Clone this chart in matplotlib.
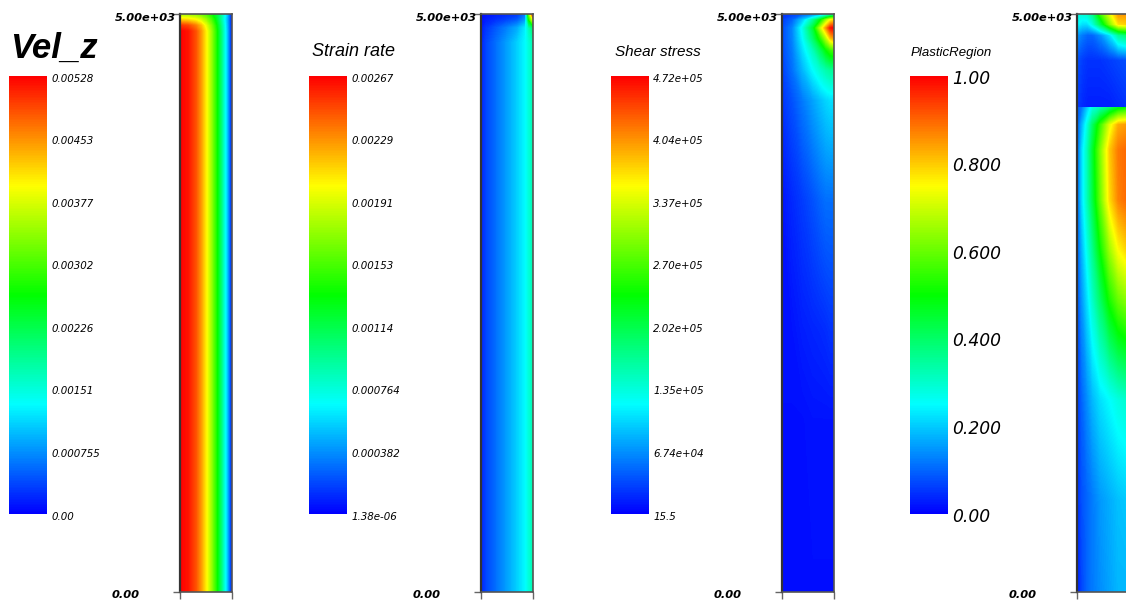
import numpy as np
import matplotlib
matplotlib.use("Agg")
import matplotlib.pyplot as plt
from matplotlib.colors import LinearSegmentedColormap, Normalize
from matplotlib.cm import ScalarMappable
from matplotlib.transforms import offset_copy

# ---------------- data ----------------
# Vel_z (units 1e-3)
vz_range = (0.0, 5.28)
vz_r = [0, 0.15, 0.3, 0.4, 0.5, 0.6, 0.7, 0.8, 0.9, 0.96, 1.0]
vz_depth = [0, 4850, 4900, 4955, 5000]
vz_vals = [
    [5.28, 5.17, 4.86, 4.49, 4.01, 3.43, 2.75, 1.95, 1.06, 0.42, 0.0],
    [5.28, 5.17, 4.86, 4.49, 4.01, 3.43, 2.75, 1.95, 1.06, 0.42, 0.0],
    [5.00, 4.90, 4.62, 4.30, 3.84, 3.30, 2.65, 1.89, 1.03, 0.41, 0.0],
    [4.10, 4.05, 3.90, 3.70, 3.40, 3.00, 2.45, 1.76, 0.98, 0.40, 0.0],
    [3.38, 3.36, 3.27, 3.15, 2.96, 2.70, 2.35, 1.80, 1.05, 0.42, 0.0],
]
vz_ticks = ["0.00", "0.000755", "0.00151", "0.00226", "0.00302", "0.00377", "0.00453", "0.00528"]

# Strain rate (units 1e-3)
sr_range = (0.00138, 2.67)
sr_r = [0, 0.1, 0.3, 0.5, 0.7, 0.85, 0.92, 1.0]
sr_depth = [0, 4750, 4880, 4950, 5000]
sr_vals = [
    [0.08, 0.18, 0.30, 0.42, 0.55, 0.66, 0.76, 0.88],
    [0.08, 0.18, 0.30, 0.42, 0.55, 0.66, 0.76, 0.88],
    [0.06, 0.14, 0.24, 0.34, 0.45, 0.62, 0.85, 1.07],
    [0.04, 0.08, 0.13, 0.18, 0.24, 0.40, 1.30, 1.95],
    [0.03, 0.05, 0.08, 0.11, 0.14, 0.30, 1.60, 2.67],
]
sr_ticks = ["1.38e-06", "0.000382", "0.000764", "0.00114", "0.00153", "0.00191", "0.00229", "0.00267"]

# Shear stress (units 1e5)
ss_range = (0.000155, 4.72)
ss_r = [0, 0.2, 0.4, 0.6, 0.75, 0.85, 0.93, 1.0]
ss_depth = [0, 1488, 2266, 3391, 4256, 4516, 4689, 4792, 4879, 4948, 5000]
ss_vals = [
    [0.07, 0.07, 0.07, 0.07, 0.07, 0.07, 0.07, 0.07],
    [0.07, 0.07, 0.07, 0.09, 0.09, 0.09, 0.09, 0.09],
    [0.09, 0.09, 0.14, 0.17, 0.19, 0.21, 0.24, 0.24],
    [0.09, 0.19, 0.28, 0.38, 0.47, 0.52, 0.52, 0.52],
    [0.24, 0.38, 0.57, 0.76, 0.90, 0.99, 1.04, 1.04],
    [0.28, 0.52, 0.85, 1.18, 1.42, 1.56, 1.65, 1.65],
    [0.33, 0.57, 1.04, 1.51, 1.98, 2.36, 2.60, 2.69],
    [0.33, 0.61, 1.18, 1.89, 2.60, 3.21, 3.78, 4.01],
    [0.33, 0.61, 1.27, 2.12, 3.30, 4.01, 4.58, 4.72],
    [0.28, 0.47, 0.94, 1.65, 2.36, 3.07, 3.54, 3.68],
    [0.24, 0.28, 0.38, 0.47, 0.66, 0.94, 1.18, 1.32],
]
ss_ticks = ["15.5", "6.74e+04", "1.35e+05", "2.02e+05", "2.70e+05", "3.37e+05", "4.04e+05", "4.72e+05"]

# PlasticRegion
pr_range = (0.0, 1.0)
pr_r = [0, 0.1, 0.2, 0.3, 0.45, 0.63, 0.8, 1.0]
pr_depth = [0, 796, 1661, 2526, 2958, 3391, 3824, 4040, 4187, 4189, 4602, 4818, 4913, 5000]
pr_vals = [
    [0.02, 0.07, 0.10, 0.12, 0.14, 0.16, 0.18, 0.18],
    [0.04, 0.08, 0.10, 0.12, 0.15, 0.17, 0.19, 0.20],
    [0.05, 0.10, 0.14, 0.18, 0.22, 0.25, 0.28, 0.30],
    [0.07, 0.15, 0.22, 0.30, 0.40, 0.52, 0.60, 0.64],
    [0.08, 0.18, 0.27, 0.36, 0.50, 0.65, 0.75, 0.80],
    [0.08, 0.22, 0.32, 0.43, 0.60, 0.78, 0.87, 0.90],
    [0.08, 0.22, 0.32, 0.45, 0.62, 0.80, 0.88, 0.90],
    [0.08, 0.18, 0.28, 0.40, 0.55, 0.72, 0.83, 0.85],
    [0.08, 0.12, 0.20, 0.28, 0.33, 0.40, 0.48, 0.52],
    [0.06, 0.04, 0.03, 0.03, 0.03, 0.03, 0.04, 0.05],
    [0.08, 0.06, 0.05, 0.05, 0.05, 0.06, 0.07, 0.08],
    [0.15, 0.12, 0.10, 0.10, 0.14, 0.22, 0.35, 0.40],
    [0.25, 0.22, 0.22, 0.28, 0.42, 0.62, 0.78, 0.80],
    [0.28, 0.29, 0.30, 0.36, 0.55, 0.72, 0.85, 0.85],
]
pr_ticks = ["0.00", "0.200", "0.400", "0.600", "0.800", "1.00"]

titles = ["Vel_z", "Strain rate", "Shear stress", "PlasticRegion"]

# ---------------- layout ----------------
W, H = 1126, 603
fig = plt.figure(figsize=(W / 100, H / 100), dpi=100)
fig.patch.set_facecolor("white")

def fx(px):
    return px / W

def fy(py):
    return 1 - py / H

cmap = LinearSegmentedColormap.from_list(
    "pv_rainbow", [(0, 0, 1), (0, 1, 1), (0, 1, 0), (1, 1, 0), (1, 0, 0)], N=256)

panels = [
    dict(r=vz_r, d=vz_depth, v=vz_vals, rng=vz_range, ticks=vz_ticks, title=titles[0],
         cbx=9, fld=180, tsize=25, tweight="bold", tx=10, ty=58, lsize=7.4),
    dict(r=sr_r, d=sr_depth, v=sr_vals, rng=sr_range, ticks=sr_ticks, title=titles[1],
         cbx=309, fld=481, tsize=13, tweight="normal", tx=312, ty=56, lsize=7.4),
    dict(r=ss_r, d=ss_depth, v=ss_vals, rng=ss_range, ticks=ss_ticks, title=titles[2],
         cbx=611, fld=782, tsize=11, tweight="normal", tx=615, ty=56, lsize=7.4),
    dict(r=pr_r, d=pr_depth, v=pr_vals, rng=pr_range, ticks=pr_ticks, title=titles[3],
         cbx=910, fld=1077, tsize=9.5, tweight="normal", tx=911, ty=56, lsize=12.3),
]

CB_TOP, CB_BOT, CB_W = 76, 514, 38
F_TOP, F_BOT, F_W = 14, 592, 52

for p in panels:
    norm = Normalize(vmin=p["rng"][0], vmax=p["rng"][1])

    # field
    ax = fig.add_axes([fx(p["fld"]), fy(F_BOT), fx(F_W), (F_BOT - F_TOP) / H])
    levels = np.linspace(p["rng"][0], p["rng"][1], 257)
    R, D = np.meshgrid(np.asarray(p["r"]), np.asarray(p["d"]))
    ax.contourf(R, D, np.asarray(p["v"]), levels=levels, cmap=cmap, norm=norm,
                extend="both", antialiased=False)
    ax.set_xlim(0, 1)
    ax.set_ylim(0, 5000)
    ax.set_xticks([0, 1])
    ax.set_yticks([0, 5000])
    ax.set_xticklabels([])
    ax.set_yticklabels([])
    ax.tick_params(length=5, width=1, color="#666666", direction="out")
    for s in ax.spines.values():
        s.set_color("#555555")
        s.set_linewidth(1.2)
    ax.spines["left"].set_color("#333333")
    ax.spines["left"].set_linewidth(1.6)
    fig.text(fx(p["fld"] - 4), fy(18), "5.00e+03", ha="right", va="center",
             fontsize=8.2, style="italic", weight="bold", family="DejaVu Sans")
    fig.text(fx(p["fld"] - 40), fy(595), "0.00", ha="right", va="center",
             fontsize=8.2, style="italic", weight="bold", family="DejaVu Sans")

    # colorbar
    cax = fig.add_axes([fx(p["cbx"]), fy(CB_BOT), fx(CB_W), (CB_BOT - CB_TOP) / H])
    sm = ScalarMappable(norm=norm, cmap=cmap)
    cb = fig.colorbar(sm, cax=cax)
    cb.outline.set_visible(False)
    cb.set_ticks([])
    trans = offset_copy(cax.transAxes, fig=fig, x=4, y=-2.5, units="dots")
    n = len(p["ticks"])
    for i, lab in enumerate(p["ticks"]):
        cax.text(1.0, i / (n - 1), lab, transform=trans, ha="left", va="center",
                 fontsize=p["lsize"], style="italic", family="DejaVu Sans")

    # title
    fig.text(fx(p["tx"]), fy(p["ty"]), p["title"], ha="left", va="baseline",
             fontsize=p["tsize"], style="italic", weight=p["tweight"],
             family="Liberation Sans")

fig.savefig("out.png", dpi=100)
